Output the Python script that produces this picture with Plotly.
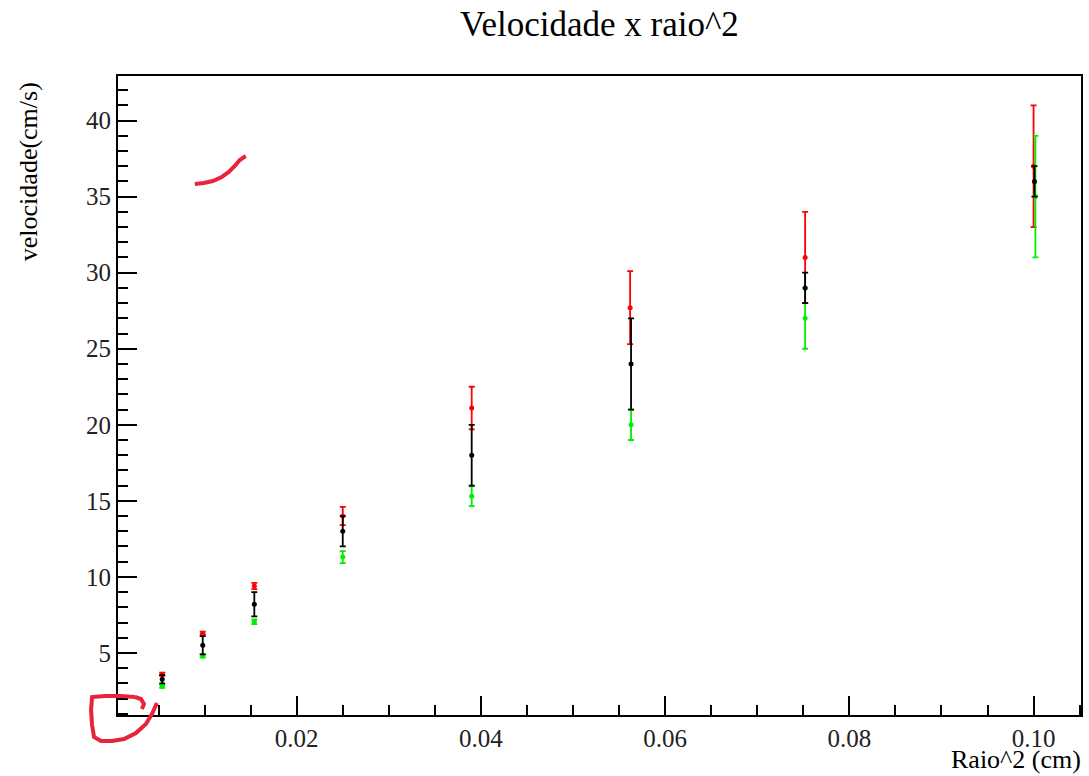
import plotly.graph_objects as go

# ---- data ----
raio2_red   = [0.0054, 0.0098, 0.0154, 0.0250, 0.0390, 0.0562, 0.0752, 0.1000]
raio2_black = [0.0054, 0.0098, 0.0154, 0.0250, 0.0390, 0.0563, 0.0752, 0.1001]
raio2_green = [0.0054, 0.0098, 0.0154, 0.0250, 0.0390, 0.0563, 0.0752, 0.1002]

vel_red   = [3.6, 6.3, 9.4, 14.0, 21.1, 27.7, 31.0, 37.0]
err_red   = [0.1, 0.1, 0.2, 0.6, 1.4, 2.4, 3.0, 4.0]
vel_black = [3.27, 5.5, 8.2, 13.0, 18.0, 24.0, 29.0, 36.0]
err_black = [0.27, 0.6, 0.8, 1.0, 2.0, 3.0, 1.0, 1.0]
vel_green = [2.8, 4.8, 7.05, 11.3, 15.3, 20.0, 27.0, 35.0]
err_green = [0.1, 0.1, 0.15, 0.4, 0.65, 1.0, 2.0, 4.0]

x_ticks = [0.02, 0.04, 0.06, 0.08, 0.10]
y_ticks = [5, 10, 15, 20, 25, 30, 35, 40]

title_text = "Velocidade x raio^2"
x_title = "Raio^2 (cm)"
y_title = "velocidade(cm/s)"

FONT = "Liberation Serif, Times New Roman, serif"
W, H = 1089, 776
L, R, T, B = 118, 6, 76, 61
PW, PH = W - L - R, H - T - B

fig = go.Figure()

def add_series(x, y, e, color):
    fig.add_trace(go.Scatter(
        x=x, y=y, mode="markers",
        marker=dict(color=color, size=5, symbol="circle"),
        error_y=dict(type="data", array=e, visible=True, color=color,
                     thickness=1.8, width=3),
        showlegend=False, cliponaxis=False))

add_series(raio2_red, vel_red, err_red, "#ff0000")
add_series(raio2_green, vel_green, err_green, "#00ee00")
add_series(raio2_black, vel_black, err_black, "#000000")

axis_common = dict(showgrid=False, zeroline=False, showline=True, mirror=True,
                   linecolor="black", linewidth=2, ticks="inside",
                   tickcolor="black", tickwidth=1.5,
                   tickfont=dict(family=FONT, size=25, color="#222"))

fig.update_xaxes(range=[0.0006, 0.10515], tickvals=x_ticks,
                 ticktext=[f"{v:.2f}" for v in x_ticks], ticklen=19,
                 minor=dict(dtick=0.005, tick0=0, ticks="inside", ticklen=10,
                            tickcolor="black", tickwidth=1.5),
                 **axis_common)
fig.update_yaxes(range=[0.92, 42.93], tickvals=y_ticks, ticklen=19,
                 minor=dict(dtick=1, tick0=0, ticks="inside", ticklen=10,
                            tickcolor="black", tickwidth=1.5),
                 **axis_common)

def px(xp, yp):
    return (xp - L) / PW, (H - B - yp) / PH

# titles
tx, ty = px(601, 25)
fig.add_annotation(text=title_text, xref="paper", yref="paper", x=tx, y=ty,
                   showarrow=False, xanchor="center", yanchor="middle",
                   font=dict(family=FONT, size=35, color="black"))
tx, ty = px(1085, 760)
fig.add_annotation(text=x_title, xref="paper", yref="paper", x=tx, y=ty,
                   showarrow=False, xanchor="right", yanchor="middle",
                   font=dict(family=FONT, size=26, color="black"))
tx, ty = px(29, 172)
fig.add_annotation(text=y_title, xref="paper", yref="paper", textangle=-90,
                   x=tx, y=ty, showarrow=False, xanchor="center", yanchor="middle",
                   font=dict(family=FONT, size=26, color="black"))

# hand-drawn red marks (pixel coordinates converted to paper)
def path(pts):
    s = ""
    for i, (a, b) in enumerate(pts):
        u, v = px(a, b)
        s += ("M" if i == 0 else "L") + f"{u:.5f},{v:.5f} "
    return s

scribbles = [
    [(195, 184), (204, 183), (213, 181), (222, 177), (229, 172), (235, 166), (240, 160), (246, 156)],
    [(135, 697), (120, 696), (105, 696), (92, 697), (91, 710), (92, 725), (94, 737), (101, 741),
     (112, 741), (124, 739), (136, 733), (146, 724), (152, 714), (157, 703)],
    [(135, 697), (141, 699), (144, 704), (142, 709)],
]
for s in scribbles:
    fig.add_shape(type="path", path=path(s), xref="paper", yref="paper",
                  line=dict(color="#e8233a", width=4))

fig.update_layout(width=W, height=H, margin=dict(l=L, r=R, t=T, b=B),
                  plot_bgcolor="white", paper_bgcolor="white",
                  font=dict(family=FONT))

fig.write_html("out.html", config={"displayModeBar": False},
               post_script="document.body.style.margin='0px';document.body.style.overflow='hidden';")
